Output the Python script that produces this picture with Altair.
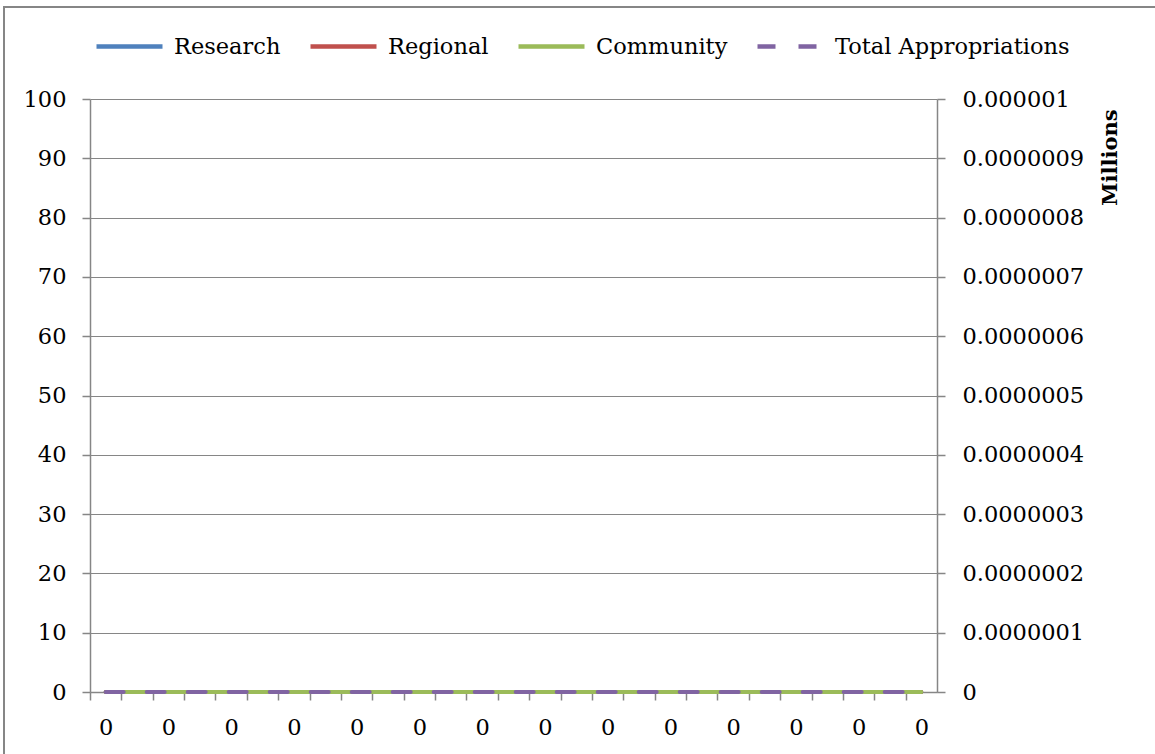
import json

import altair as alt
import pandas as pd

# Period index along the x axis (27 periods) and their tick labels
periods = list(range(27))
x_labels = ["0", "0", "0", "0", "0", "0", "0", "0", "0", "0", "0", "0", "0", "0",
            "0", "0", "0", "0", "0", "0", "0", "0", "0", "0", "0", "0", "0"]

# Series values per period
research = [0, 0, 0, 0, 0, 0, 0, 0, 0, 0, 0, 0, 0, 0, 0, 0, 0, 0, 0, 0, 0, 0, 0, 0, 0, 0, 0]
regional = [0, 0, 0, 0, 0, 0, 0, 0, 0, 0, 0, 0, 0, 0, 0, 0, 0, 0, 0, 0, 0, 0, 0, 0, 0, 0, 0]
community = [0, 0, 0, 0, 0, 0, 0, 0, 0, 0, 0, 0, 0, 0, 0, 0, 0, 0, 0, 0, 0, 0, 0, 0, 0, 0, 0]
total_appropriations = [0, 0, 0, 0, 0, 0, 0, 0, 0, 0, 0, 0, 0, 0, 0, 0, 0, 0, 0, 0, 0, 0, 0, 0, 0, 0, 0]

series_names = ["Research", "Regional", "Community", "Total Appropriations"]
series_colors = ["#4F81BD", "#C0504D", "#9BBB59", "#8064A2"]
series_dashes = [[1, 0], [1, 0], [1, 0], [18, 23]]

# Axis tick values
left_ticks = [0, 10, 20, 30, 40, 50, 60, 70, 80, 90, 100]
right_ticks = [0, 1e-7, 2e-7, 3e-7, 4e-7, 5e-7, 6e-7, 7e-7, 8e-7, 9e-7, 1e-6]

FONT = "DejaVu Serif"
FS = 22.5
GRAY = "#868686"
PLOT_W = 847
PLOT_H = 593

rows = []
for name, vals in zip(series_names, [research, regional, community, total_appropriations]):
    for p, v in zip(periods, vals):
        rows.append({"period": p, "series": name, "value": v})
df = pd.DataFrame(rows)

# Ticks sit on period boundaries; labels are shifted to the middle of each
# period and only every second one is shown.
label_expr = (
    f"(datum.value % 2 == 0 && datum.value < {len(periods)}) ? "
    f"{json.dumps(x_labels)}[datum.value] : ''"
)

x_enc = alt.X(
    "xpos:Q",
    scale=alt.Scale(domain=[0, len(periods)], nice=False, zero=False),
    axis=alt.Axis(
        title=None,
        values=periods,
        labelOffset=PLOT_W / len(periods) / 2,
        labelExpr=label_expr,
        labelAngle=0,
        labelPadding=16,
        labelOverlap=False,
        labelFlush=False,
        tickSize=8,
        grid=False,
    ),
)

legend_cfg = alt.Legend(
    title=None,
    orient="none",
    direction="horizontal",
    columns=4,
    legendX=4,
    legendY=-88,
)

color_enc = alt.Color(
    "series:N",
    scale=alt.Scale(domain=series_names, range=series_colors),
    legend=legend_cfg,
)
dash_enc = alt.StrokeDash(
    "series:N",
    scale=alt.Scale(domain=series_names, range=series_dashes),
    legend=legend_cfg,
)

y_left = alt.Y(
    "value:Q",
    scale=alt.Scale(domain=[0, 100], nice=False, zero=True),
    axis=alt.Axis(
        title=None,
        values=left_ticks,
        grid=True,
        tickSize=8,
        labelPadding=16,
        labelFlush=False,
    ),
)

y_right = alt.Y(
    "value:Q",
    scale=alt.Scale(domain=[0, 1e-6], nice=False, zero=True),
    axis=alt.Axis(
        orient="right",
        values=right_ticks,
        format=".7~f",
        grid=False,
        tickSize=8,
        labelPadding=17,
        labelFlush=False,
        title="Millions",
        titleFontWeight="bold",
        titleFont=FONT,
        titleFontSize=21,
        titleAngle=270,
        titleX=173,
        titleY=58,
        titleAlign="center",
        titleBaseline="middle",
    ),
)


def series_line(name, y_enc):
    return (
        alt.Chart(df)
        .transform_filter(alt.datum.series == name)
        .transform_calculate(xpos="datum.period + 0.5")
        .mark_line(strokeWidth=4, strokeCap="round")
        .encode(x=x_enc, y=y_enc, color=color_enc, strokeDash=dash_enc)
    )


left_layers = alt.layer(
    series_line("Research", y_left),
    series_line("Regional", y_left),
    series_line("Community", y_left),
)
right_layer = series_line("Total Appropriations", y_right)

# Outer chart frame
frame = (
    alt.Chart(alt.Data(values=[{}]))
    .mark_rect(fill=None, stroke=GRAY, strokeWidth=2)
    .encode(
        x=alt.value(-86),
        x2=alt.value(1100),
        y=alt.value(-92),
        y2=alt.value(700),
    )
)

chart = (
    alt.layer(frame, left_layers, right_layer)
    .resolve_scale(y="independent")
    .properties(
        width=PLOT_W,
        height=PLOT_H,
        autosize=alt.AutoSizeParams(type="none"),
        padding={"left": 90, "top": 99, "right": 218, "bottom": 62},
        background="white",
    )
    .configure_view(stroke=None)
    .configure_axis(
        labelFont=FONT,
        labelFontSize=FS,
        labelColor="black",
        domainColor=GRAY,
        domainWidth=1.5,
        tickColor=GRAY,
        tickWidth=1.5,
        gridColor=GRAY,
        gridWidth=1,
    )
    .configure_legend(
        labelFont=FONT,
        labelFontSize=FS,
        labelColor="black",
        labelLimit=400,
        labelOffset=9,
        columnPadding=20,
        padding=0,
        symbolType="stroke",
        symbolSize=4356,
        symbolStrokeWidth=4.5,
    )
)

chart.save("out.html", embed_options={"renderer": "svg", "actions": False})
